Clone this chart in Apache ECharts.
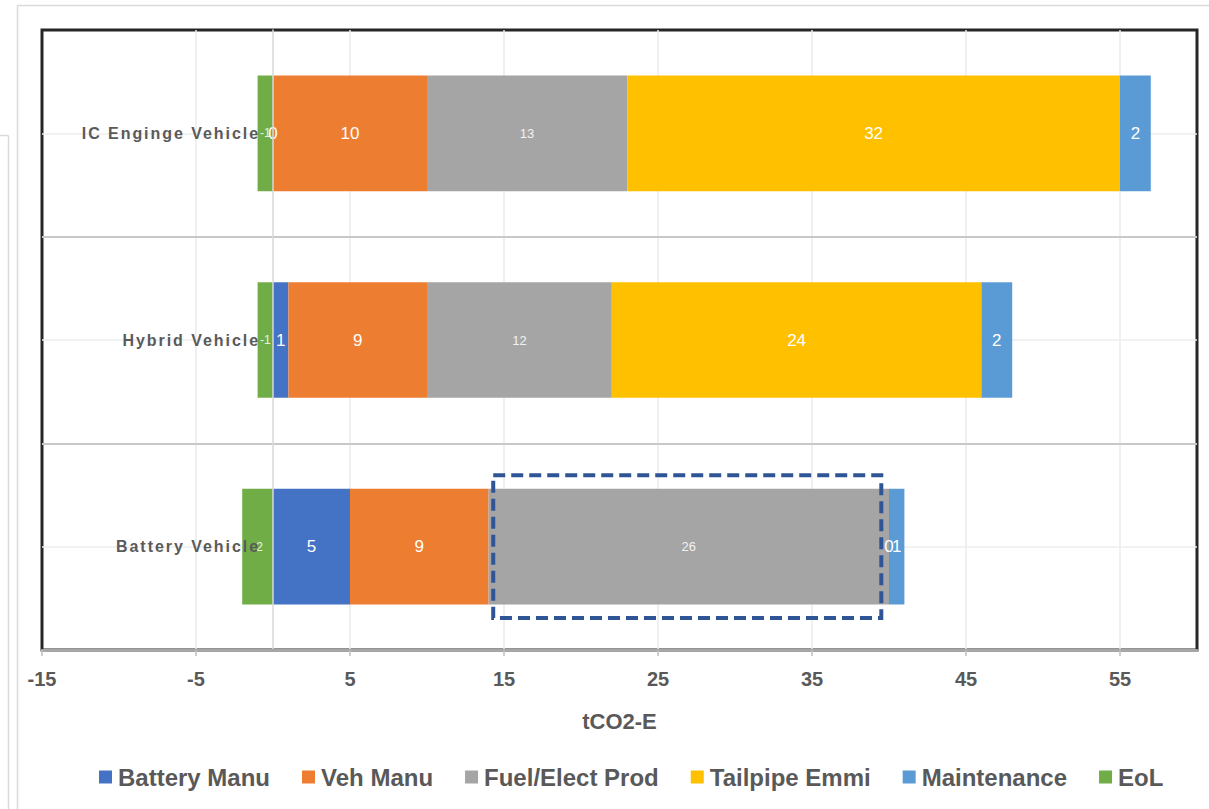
<!DOCTYPE html>
<html>
<head>
<meta charset="utf-8">
<title>Lifecycle emissions by vehicle type</title>
<script src="https://cdn.jsdelivr.net/npm/echarts@6/dist/echarts.min.js"></script>
<style>
  html, body { margin: 0; padding: 0; background: #ffffff; }
  #chart { width: 1209px; height: 809px; }
  /* spaced-out category names on the vertical axis */
  #chart text[fill="#5a5a5a"] { letter-spacing: 1.95px; }
</style>
</head>
<body>
<div id="chart"></div>
<script>
// Vehicle types, listed top to bottom
const categories = ['IC Enginge Vehicle', 'Hybrid Vehicle', 'Battery Vehicle'];

// Lifecycle emission components (tCO2-E) per vehicle type
const batteryManu = [0, 1, 5];
const vehManu = [10, 9, 9];
const fuelElectProd = [13, 12, 26];
const tailpipeEmmi = [32, 24, 0];
const maintenance = [2, 2, 1];
const eol = [-1, -1, -2];

const seriesNames = ['Battery Manu', 'Veh Manu', 'Fuel/Elect Prod', 'Tailpipe Emmi', 'Maintenance', 'EoL'];

// Highlighted span on the battery vehicle's fuel/electricity production
const highlightFrom = 14.3;
const highlightTo = 39.5;
const highlightCategory = 'Battery Vehicle';

const FONT = "'Liberation Sans', Arial, sans-serif";
const TEXT_GREY = '#595959';
const GRID_LEFT = 42;
const CATEGORY_LABEL_GAP = 13; // gap between category names and the zero line

function barSeries(name, data, color, labelSize, labelColor, extra) {
  return Object.assign({
    name: name,
    type: 'bar',
    stack: 'total',
    data: data,
    barWidth: '56%',
    itemStyle: { color: color },
    label: {
      show: true,
      position: 'inside',
      color: labelColor,
      fontSize: labelSize,
      fontFamily: FONT
    },
    emphasis: { disabled: true }
  }, extra || {});
}

const chart = echarts.init(document.getElementById('chart'), null, { renderer: 'svg' });

const option = {
  animation: false,
  backgroundColor: '#ffffff',
  grid: {
    left: GRID_LEFT, right: 12, top: 30, bottom: 159,
    containLabel: false,
    outerBoundsMode: 'none',
    show: true,
    borderColor: '#262626',
    borderWidth: 3,
    backgroundColor: 'transparent'
  },
  legend: {
    left: 94,
    top: 760,
    icon: 'rect',
    itemWidth: 13,
    itemHeight: 13,
    itemGap: 32,
    selectedMode: false,
    textStyle: { fontSize: 24, fontWeight: 'bold', color: TEXT_GREY, fontFamily: FONT, padding: [0, 0, 0, 1] },
    data: seriesNames
  },
  xAxis: [
    {
      type: 'value',
      min: -15, max: 60, interval: 10,
      position: 'bottom',
      name: 'tCO2-E',
      nameLocation: 'middle',
      nameGap: 60,
      nameTextStyle: { fontSize: 22, fontWeight: 'bold', color: TEXT_GREY, fontFamily: FONT },
      axisLine: { show: true, onZero: false, lineStyle: { color: '#a6a6a6', width: 3 } },
      axisTick: { show: true, length: 6, lineStyle: { color: '#bfbfbf', width: 1.5 } },
      axisLabel: { margin: 19, fontSize: 20, fontWeight: 'bold', color: TEXT_GREY, fontFamily: FONT, showMaxLabel: false },
      splitLine: { show: false },
      z: 3
    },
    {
      // finer scale used only for the vertical gridlines every 10 units
      type: 'value',
      min: -15, max: 60, interval: 5,
      position: 'bottom',
      axisLine: { show: false },
      axisTick: { show: false },
      axisLabel: { show: false },
      splitLine: {
        show: true, showMinLine: false, showMaxLine: false,
        lineStyle: { color: ['transparent', '#ebebeb'], width: 1.5 }
      }
    }
  ],
  yAxis: {
    type: 'category',
    inverse: true,
    data: categories,
    axisLine: { show: true, onZero: true, onZeroAxisIndex: 0, lineStyle: { color: '#d9d9d9', width: 1.5 } },
    axisTick: { show: false },
    axisLabel: { margin: CATEGORY_LABEL_GAP, fontSize: 16, fontWeight: 'bold', color: '#5a5a5a', fontFamily: FONT },
    splitLine: {
      show: true, showMinLine: false, showMaxLine: false,
      lineStyle: { color: '#c8c8c8', width: 2 }
    },
    z: 3
  },
  series: [
    barSeries(seriesNames[0], batteryManu, '#4472C4', 17, '#ffffff'),
    barSeries(seriesNames[1], vehManu, '#ED7D31', 17, '#ffffff'),
    barSeries(seriesNames[2], fuelElectProd, '#A5A5A5', 13, '#f2f2f2'),
    barSeries(seriesNames[3], tailpipeEmmi, '#FFC000', 17, '#ffffff'),
    barSeries(seriesNames[4], maintenance, '#5B9BD5', 17, '#ffffff'),
    barSeries(seriesNames[5], eol, '#70AD47', 12, '#e8f1e1', {
      markLine: {
        silent: true,
        symbol: 'none',
        z: 1,
        label: { show: false },
        lineStyle: { color: '#eeeeee', width: 1.5, type: 'solid' },
        data: categories.map(function (c) { return { yAxis: c }; })
      }
    })
  ]
};

chart.setOption(option);

// Category names sit just left of the zero line rather than at the plot's edge
const zeroX = chart.convertToPixel({ xAxisIndex: 0 }, 0);
chart.setOption({
  yAxis: { axisLabel: { margin: CATEGORY_LABEL_GAP - (zeroX - GRID_LEFT) } }
});

// Dashed box around the highlighted span, placed through the axes' scales
const pFrom = chart.convertToPixel({ xAxisIndex: 0, yAxisIndex: 0 }, [highlightFrom, highlightCategory]);
const pTo = chart.convertToPixel({ xAxisIndex: 0, yAxisIndex: 0 }, [highlightTo, highlightCategory]);
const band = Math.abs(
  chart.convertToPixel({ yAxisIndex: 0 }, categories[1]) -
  chart.convertToPixel({ yAxisIndex: 0 }, categories[0])
);
const halfBox = band * 0.345;

chart.setOption({
  graphic: [
    // page edges around the chart area
    { type: 'line', silent: true, shape: { x1: 17.5, y1: 5.5, x2: 1209, y2: 5.5 }, style: { stroke: '#dadada', lineWidth: 1.5 } },
    { type: 'line', silent: true, shape: { x1: 17.5, y1: 5.5, x2: 17.5, y2: 809 }, style: { stroke: '#dadada', lineWidth: 1.5 } },
    { type: 'line', silent: true, shape: { x1: 0, y1: 135.5, x2: 8.5, y2: 135.5 }, style: { stroke: '#dadada', lineWidth: 1.5 } },
    { type: 'line', silent: true, shape: { x1: 8.5, y1: 135.5, x2: 8.5, y2: 809 }, style: { stroke: '#dadada', lineWidth: 1.5 } },
    {
      type: 'rect',
      silent: true,
      z: 10,
      shape: { x: pFrom[0], y: pFrom[1] - halfBox, width: pTo[0] - pFrom[0], height: halfBox * 2 },
      style: { fill: 'none', stroke: '#2F5597', lineWidth: 4, lineDash: [12, 6] }
    }
  ]
});
</script>
</body>
</html>
